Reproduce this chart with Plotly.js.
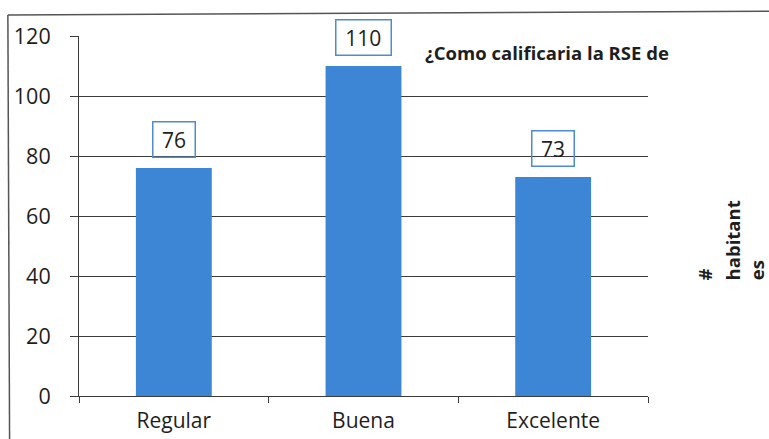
<!DOCTYPE html>
<html>
<head>
<meta charset="utf-8">
<script src="https://cdn.plot.ly/plotly-3.0.1.min.js"></script>
<style>
  html, body { margin: 0; padding: 0; background: #fff; }
  #chart { width: 769px; height: 439px; }
</style>
</head>
<body>
<div id="chart"></div>
<script>
// Categories and counts of respondents per rating
const categories = ['Regular', 'Buena', 'Excelente'];
const counts = [76, 110, 73];
const yTicks = [0, 20, 40, 60, 80, 100, 120];
const chartTitle = '¿Como calificaria la RSE de';
const seriesName = ['#', 'habitant', 'es'];

const FONT = 'Open Sans, Lato, DejaVu Sans, sans-serif';
const INK = '#1e1e1e';
const RULE = '#3c3c3c';
const BAR = '#3d86d6';
const BOX = '#4f8ad2';

const bars = {
  type: 'bar',
  x: categories,
  y: counts,
  marker: { color: BAR, line: { width: 0 } },
  hoverinfo: 'skip',
  showlegend: false
};

// Value labels in outlined boxes above each bar
const valueLabels = categories.map((c, i) => ({
  x: c,
  y: counts[i],
  xref: 'x',
  yref: 'y',
  text: String(counts[i]),
  showarrow: false,
  yanchor: 'bottom',
  yshift: 10,
  font: { family: FONT, size: 21, color: INK },
  bordercolor: BOX,
  borderwidth: 1.5,
  borderpad: 3,
  width: String(counts[i]).length * 12.5 + 10
}));

// Chart title placed inside the plot area, top right
const titleNote = {
  x: 0.822, y: 0.955, xref: 'paper', yref: 'paper',
  text: '<b>' + chartTitle + '</b>',
  showarrow: false,
  xanchor: 'center', yanchor: 'middle',
  font: { family: FONT, size: 18.5, color: INK }
};

// Series name written vertically on the right, one line per annotation
const nameX = [1.100, 1.149, 1.191];
const seriesNotes = seriesName.map((t, i) => ({
  x: nameX[i], y: 0.315, xref: 'paper', yref: 'paper',
  text: '<b>' + t + '</b>',
  showarrow: false,
  textangle: -90,
  xanchor: 'center', yanchor: 'bottom',
  font: { family: FONT, size: 18.5, color: INK }
}));

const layout = {
  width: 769,
  height: 439,
  margin: { l: 79, r: 121, t: 36, b: 43 },
  paper_bgcolor: '#fff',
  plot_bgcolor: '#fff',
  bargap: 0.6,
  showlegend: false,
  xaxis: {
    type: 'category',
    showgrid: false,
    showline: true,
    linecolor: RULE,
    linewidth: 1,
    ticks: 'outside',
    tickson: 'boundaries',
    ticklen: 6,
    tickcolor: RULE,
    ticklabelstandoff: 6,
    tickfont: { family: FONT, size: 21, color: INK },
    zeroline: false,
    fixedrange: true
  },
  yaxis: {
    range: [0, 120],
    tickvals: yTicks,
    ticktext: yTicks.map(String),
    showgrid: true,
    gridcolor: RULE,
    gridwidth: 1,
    showline: true,
    linecolor: RULE,
    linewidth: 1,
    ticks: 'outside',
    ticklen: 8,
    tickcolor: RULE,
    ticklabelstandoff: 15,
    tickfont: { family: FONT, size: 21.5, color: INK },
    zeroline: false,
    fixedrange: true
  },
  shapes: [
    // outer frame: top and left edges
    { type: 'line', xref: 'paper', yref: 'paper',
      x0: -0.125, y0: 1.058, x1: 1.213, y1: 1.069,
      line: { color: '#555', width: 1.5 } },
    { type: 'line', xref: 'paper', yref: 'paper',
      x0: -0.125, y0: 1.058, x1: -0.122, y1: -0.125,
      line: { color: '#555', width: 1.5 } }
  ],
  annotations: valueLabels.concat([titleNote]).concat(seriesNotes)
};

Plotly.newPlot('chart', [bars], layout, { displayModeBar: false, staticPlot: true });
</script>
</body>
</html>
